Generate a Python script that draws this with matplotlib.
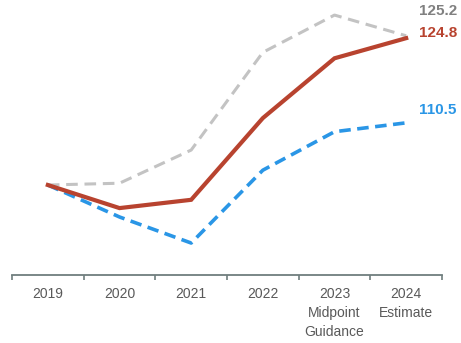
import matplotlib.pyplot as plt

plt.rcParams['font.family'] = ['Liberation Sans', 'DejaVu Sans']

# Indexed values (2019 = 100)
years = ['2019', '2020', '2021', '2022', '2023\nMidpoint\nGuidance', '2024\nEstimate']
high_case = [100.0, 100.3, 105.9, 122.4, 128.7, 125.2]
base_case = [100.0, 96.1, 97.5, 111.3, 121.4, 124.8]
low_case = [100.0, 94.6, 90.2, 102.5, 109.0, 110.5]

gray = '#c3c3c3'
red = '#b8432f'
blue = '#2a96e6'

fig = plt.figure(figsize=(4.61, 3.43), dpi=100)
ax = fig.add_axes([12 / 461, 1 - 275 / 343, 430 / 461, 270 / 343])

x = list(range(len(years)))
ax.plot(x, low_case, color=blue, lw=2.6, dashes=(3.2, 1.8), zorder=2)
ax.plot(x, high_case, color=gray, lw=2.2, dashes=(3.8, 2.2), zorder=2)
ax.plot(x, base_case, color=red, lw=3.0, solid_joinstyle='miter', zorder=3)

# end-of-line value labels
for vals, col, dy in [(high_case, '#808080', 18), (base_case, red, 3.6), (low_case, blue, 9)]:
    ax.annotate(f'{vals[-1]:.1f}', (x[-1], vals[-1]), xytext=(9, dy),
                textcoords='offset points', ha='left', va='center',
                fontsize=11, fontweight='bold', color=col, annotation_clip=False)

ax.set_xlim(-0.5, 5.5)
ax.set_ylim(84.8, 130.4)

for side in ['top', 'right', 'left']:
    ax.spines[side].set_visible(False)
ax.spines['bottom'].set_color('#6f7e7e')
ax.spines['bottom'].set_linewidth(1.3)

ax.set_yticks([])
ax.set_xticks(x)
ax.set_xticklabels(years, fontsize=10, color='#595959', linespacing=1.45)
ax.tick_params(axis='x', which='major', length=0, pad=9)
ax.set_xticks([i - 0.5 for i in range(len(years) + 1)], minor=True)
ax.tick_params(axis='x', which='minor', length=3.5, width=1.2, color='#6f7e7e', direction='out')

fig.savefig('out.png', dpi=100)
